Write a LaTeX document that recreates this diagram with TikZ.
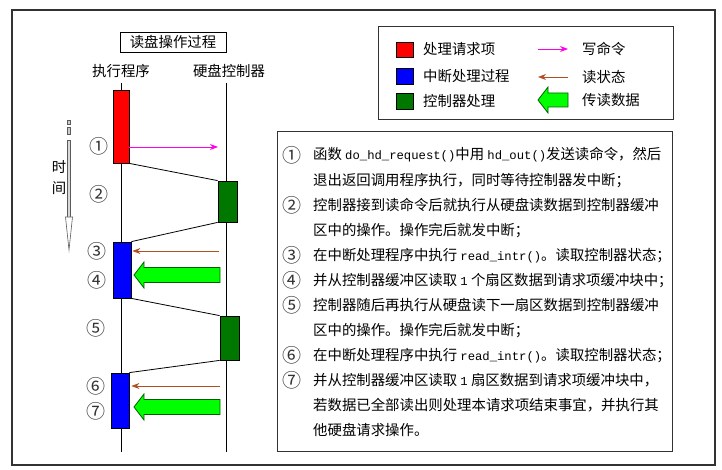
\documentclass[tikz,border=0pt]{standalone}
\usepackage{fontspec}
\setmainfont{Noto Sans CJK SC}
\newfontfamily\monof{Liberation Mono}[Scale=0.85]
\usetikzlibrary{arrows.meta}
\definecolor{reqred}{RGB}{255,0,0}
\definecolor{intblue}{RGB}{0,0,255}
\definecolor{ctlgreen}{RGB}{0,120,0}
\definecolor{limegreen}{RGB}{0,255,0}
\definecolor{wrmag}{RGB}{255,0,230}
\definecolor{rdbrown}{RGB}{175,80,35}
\definecolor{framegray}{RGB}{50,50,50}
\begin{document}
\begin{tikzpicture}[x=1pt,y=-1pt,
  font=\fontsize{14.4pt}{16pt}\selectfont,
  reqbox/.style={draw=black,line width=0.8pt,fill=reqred,inner sep=0pt},
  intbox/.style={draw=black,line width=0.8pt,fill=intblue,inner sep=0pt},
  ctlbox/.style={draw=black,line width=0.8pt,fill=ctlgreen,inner sep=0pt},
  life/.style={draw=black,line width=0.8pt},
  link/.style={draw=black,line width=0.8pt},
  wrarrow/.style={draw=wrmag,line width=0.9pt,-{Stealth[length=8pt,width=6pt]}},
  rdarrow/.style={draw=rdbrown,line width=0.9pt,-{Stealth[length=8pt,width=6pt]}},
  fatarrow/.style={draw=ctlgreen!80!black,line width=0.8pt,fill=limegreen},
  txt/.style={anchor=base west,inner sep=0pt},
  num/.style={anchor=center,inner sep=0pt,text=black!80,font=\fontsize{19pt}{20pt}\selectfont},
  lbl/.style={inner sep=0pt}
]
\useasboundingbox (0,0) rectangle (722,470);
\fill[white] (0,0) rectangle (722,470);
% outer frame
\draw[framegray,line width=1.5pt] (12,10) rectangle (715,465);

% title
\node[draw=black,line width=0.8pt,minimum width=106pt,minimum height=20pt,inner sep=0pt] (title) at (173,42) {读盘操作过程};
\node[lbl] (exec) at (121,71) {执行程序};
\node[lbl] (ctl) at (229,71) {硬盘控制器};

% lifelines
\coordinate (lt) at (121,83);
\coordinate (lb) at (121,452);
\coordinate (rt) at (226,83);
\coordinate (rb) at (226,452);
\draw[life] (lt) -- (lb);
\draw[life] (rt) -- (rb);

% time arrow
\draw[framegray!80,fill=gray!40,line width=0.5pt] (67.5,120) rectangle (70.5,124);
\draw[framegray!80,fill=gray!40,line width=0.5pt] (67.5,127) rectangle (70.5,134);
\draw[framegray!80,fill=gray!30,line width=0.6pt] (67.3,140) rectangle (70.7,217);
\draw[framegray!80,fill=white,line width=0.6pt] (65.5,217) -- (72.5,217) -- (69,250) -- cycle;
\node[lbl] (shi) at (59,167) {时};
\node[lbl] (jian) at (59,188) {间};

% boxes
\node[reqbox,minimum width=16pt,minimum height=73pt] (r1) at (121,126.5) {};
\node[ctlbox,minimum width=19pt,minimum height=41pt] (g1) at (227.5,201.5) {};
\node[intbox,minimum width=18pt,minimum height=56pt] (b1) at (122,270) {};
\node[ctlbox,minimum width=19pt,minimum height=44pt] (g2) at (229.5,338) {};
\node[intbox,minimum width=18pt,minimum height=55pt] (b2) at (120,400.5) {};

% links
\draw[link] (r1.south east) -- (g1.north west);
\draw[link] (g1.south west) -- (b1.north east);
\draw[link] (b1.south east) -- (g2.north west);
\draw[link] (g2.south west) -- (b2.north east);

% write command arrow
\coordinate (w1e) at (218,147);
\draw[wrarrow] (r1.east |- w1e) -- (w1e);
% read status arrows
\coordinate (s1) at (219,251);
\draw[rdarrow] (s1) -- ([xshift=1pt]b1.east |- s1);
\coordinate (s2) at (220,386);
\draw[rdarrow] (s2) -- ([xshift=2pt]b2.east |- s2);
% data arrows
\draw[fatarrow] (134,275) -- (144,262) -- (144,267.5) -- (220,267.5) -- (220,282.5) -- (144,282.5) -- (144,288) -- cycle;
\draw[fatarrow] (134,407) -- (144,394) -- (144,399.5) -- (220,399.5) -- (220,414.5) -- (144,414.5) -- (144,420) -- cycle;

% step numbers
\node[num] (n1) at (99,146) {①};
\node[num] (n2) at (99,194) {②};
\node[num] (n3) at (97,251) {③};
\node[num] (n4) at (97,280) {④};
\node[num] (n5) at (96,328) {⑤};
\node[num] (n6) at (96,386) {⑥};
\node[num] (n7) at (96,411) {⑦};

% legend
\draw[framegray,line width=1pt] (378,27) rectangle (673,120);
\node[reqbox,minimum width=17pt,minimum height=15pt] (lr) at (404.5,49.5) {};
\node[intbox,minimum width=17pt,minimum height=16pt] (lb2) at (404.5,76) {};
\node[ctlbox,minimum width=17pt,minimum height=16pt] (lg) at (404.5,101.5) {};
\node[lbl,anchor=west] (tr) at (423,49) {处理请求项};
\node[lbl,anchor=west] (tb) at (423,76) {中断处理过程};
\node[lbl,anchor=west] (tg) at (423,101) {控制器处理};
\coordinate (wa) at (538,49);
\coordinate (wb) at (568,49);
\draw[wrarrow] (wa) -- (wb);
\coordinate (ra) at (568,77);
\coordinate (rb2) at (538,77);
\draw[rdarrow] (ra) -- (rb2);
\draw[fatarrow] (538,100) -- (548,87) -- (548,93) -- (568,93) -- (568,107) -- (548,107) -- (548,113) -- cycle;
\node[lbl,anchor=west] (tw) at (582,49) {写命令};
\node[lbl,anchor=west] (ts) at (582,77) {读状态};
\node[lbl,anchor=west] (td) at (582,100) {传读数据};

% text box
\draw[framegray,line width=1pt] (277,132) rectangle (672,451);
\node[num] (m1) at (292,155) {①};
\node[txt] (t1) at (313,160) {函数 {\monof do\_hd\_request()}中用 {\monof hd\_out()}发送读命令，然后};
\node[txt] (t2) at (313,185.05) {退出返回调用程序执行，同时等待控制器发中断；};
\node[num] (m2) at (292,205.05) {②};
\node[txt] (t3) at (313,210.1) {控制器接到读命令后就执行从硬盘读数据到控制器缓冲};
\node[txt] (t4) at (313,235.15) {区中的操作。操作完后就发中断；};
\node[num] (m3) at (292,255.15) {③};
\node[txt] (t5) at (313,260.2) {在中断处理程序中执行 {\monof read\_intr()}。读取控制器状态；};
\node[num] (m4) at (292,280.2) {④};
\node[txt] (t6) at (313,285.25) {并从控制器缓冲区读取 {\monof 1} 个扇区数据到请求项缓冲块中；};
\node[num] (m5) at (292,305.25) {⑤};
\node[txt] (t7) at (313,310.3) {控制器随后再执行从硬盘读下一扇区数据到控制器缓冲};
\node[txt] (t8) at (313,335.35) {区中的操作。操作完后就发中断；};
\node[num] (m6) at (292,355.35) {⑥};
\node[txt] (t9) at (313,360.4) {在中断处理程序中执行 {\monof read\_intr()}。读取控制器状态；};
\node[num] (m7) at (292,380.4) {⑦};
\node[txt] (t10) at (313,385.45) {并从控制器缓冲区读取 {\monof 1} 扇区数据到请求项缓冲块中，};
\node[txt] (t11) at (313,410.5) {若数据已全部读出则处理本请求项结束事宜，并执行其};
\node[txt] (t12) at (313,435.55) {他硬盘请求操作。};
\end{tikzpicture}
\end{document}
